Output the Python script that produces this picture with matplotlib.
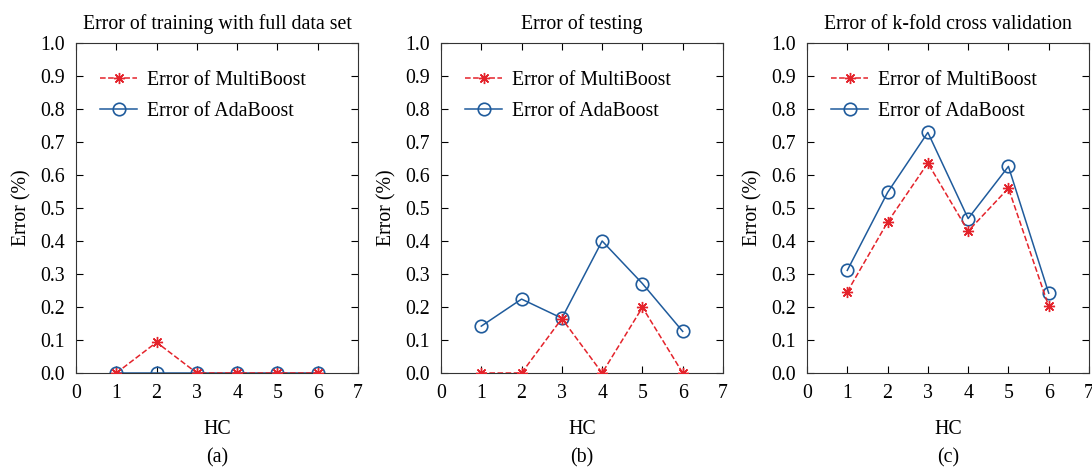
import matplotlib
matplotlib.use("Agg")
import matplotlib.pyplot as plt

hc = [1, 2, 3, 4, 5, 6]
titles = ["Error of training with full data set", "Error of testing", "Error of k-fold cross validation"]
sublabels = ["(a)", "(b)", "(c)"]
multi_train = [0.0, 0.093, 0.0, 0.0, 0.0, 0.0]
ada_train = [0.0, 0.0, 0.0, 0.0, 0.0, 0.0]
multi_test = [0.0, 0.0, 0.165, 0.0, 0.199, 0.0]
ada_test = [0.142, 0.224, 0.166, 0.400, 0.271, 0.126]
multi_cv = [0.246, 0.457, 0.636, 0.430, 0.560, 0.202]
ada_cv = [0.311, 0.547, 0.729, 0.468, 0.626, 0.242]
xticks = [0, 1, 2, 3, 4, 5, 6, 7]
yticks = [0.0, 0.1, 0.2, 0.3, 0.4, 0.5, 0.6, 0.7, 0.8, 0.9, 1.0]

plt.rcParams['font.family'] = ['Liberation Serif', 'DejaVu Serif']

RED = '#e4232b'
BLUE = '#1f5b9c'
FS = 14.3

fig = plt.figure(figsize=(10.92, 4.68), dpi=100)
lefts = [76 / 1092, 441 / 1092, 807 / 1092]
width = 282 / 1092
bottom = 1 - 373 / 468
height = 330 / 468

series = [(multi_train, ada_train), (multi_test, ada_test), (multi_cv, ada_cv)]
for i, (m, a) in enumerate(series):
    ax = fig.add_axes([lefts[i], bottom, width, height])
    ax.plot(hc, m, linestyle='--', color=RED, marker=(8, 2, 0), markersize=8, linewidth=1.1,
            markeredgewidth=1.0, label='Error of MultiBoost', zorder=3)
    ax.plot(hc, a, linestyle='-', color=BLUE, marker='o', markersize=9, linewidth=1.1,
            markerfacecolor='none', markeredgewidth=1.2, label='Error of AdaBoost', zorder=2)
    ax.set_xlim(0, 7)
    ax.set_ylim(0, 1.0)
    ax.set_xticks(xticks)
    ax.set_yticks(yticks)
    ax.set_yticklabels([f"{v:.1f}" for v in yticks])
    ax.tick_params(direction='in', top=True, right=True, labelsize=FS, length=5, width=0.8, pad=8)
    for s in ax.spines.values():
        s.set_linewidth(0.8)
        s.set_color('#333333')
    ax.set_title(titles[i], fontsize=FS, pad=10)
    ax.set_ylabel('Error (%)', fontsize=FS, labelpad=6)
    ax.set_xlabel('HC', fontsize=FS, labelpad=12)
    cx = lefts[i] + width / 2
    fig.text(cx, 1 - 458 / 468, sublabels[i], ha='center', va='center', fontsize=FS)
    ax.legend(loc='upper left', frameon=False, fontsize=FS, handlelength=1.85,
              bbox_to_anchor=(0.058, 0.94), labelspacing=0.62, handletextpad=0.5, borderaxespad=0)

fig.savefig('out.png', dpi=100)
